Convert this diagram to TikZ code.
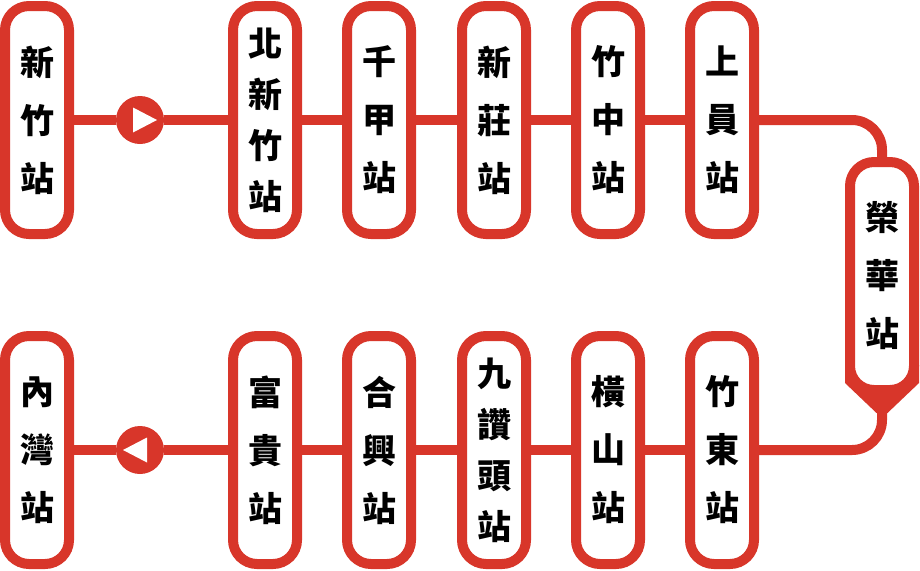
\documentclass[tikz,border=0pt]{standalone}
\usepackage{fontspec}
\usepackage{tikz}
\usetikzlibrary{backgrounds}
\newfontfamily\cjk{Noto Sans CJK TC}
\definecolor{lineRed}{RGB}{216,54,42}

\begin{document}
\begin{tikzpicture}[x=1pt,y=-1pt,
    stn/.style={draw=lineRed,line width=10pt,rounded corners=24pt,fill=white,
      minimum width=64pt,minimum height=228pt,inner sep=0pt,align=center,
      font=\cjk\bfseries\fontsize{34}{58}\selectfont},
    stnlong/.style={stn,font=\cjk\bfseries\fontsize{34}{51}\selectfont},
    conn/.style={draw=lineRed,line width=10pt,rounded corners=30pt},
    dir/.style={circle,fill=lineRed,minimum size=48pt,inner sep=0pt}]
    \useasboundingbox (0,0) rectangle (920,570);
    % upper row
    \node[stn] at (37,120) (xz) {新\\竹\\站};
    \node[dir] at (140,120) (go) {};
    \node[stnlong] at (265,120) (bxz) {北\\新\\竹\\站};
    \node[stn] at (379,120) (qj) {千\\甲\\站};
    \node[stn] at (494,120) (xzh) {新\\莊\\站};
    \node[stn] at (608,120) (zz) {竹\\中\\站};
    \node[stn] at (722,120) (sy) {上\\員\\站};
    % turn
    \node[stn] at (882,276) (rh) {榮\\華\\站};
    % lower row
    \node[stn] at (722,450) (zd) {竹\\東\\站};
    \node[stn] at (608,450) (hs) {橫\\山\\站};
    \node[stnlong] at (494,450) (jzt) {九\\讚\\頭\\站};
    \node[stn] at (379,450) (hx) {合\\興\\站};
    \node[stn] at (265,450) (fg) {富\\貴\\站};
    \node[dir] at (140,450) (back) {};
    \node[stn] at (37,450) (nw) {內\\灣\\站};
    \fill[white] ([shift={(-7pt,12.5pt)}]go.center) -- ([shift={(-7pt,-12.5pt)}]go.center)
      -- ([xshift=17pt]go.center) -- cycle;
    \fill[white] ([shift={(7pt,12.5pt)}]back.center) -- ([shift={(7pt,-12.5pt)}]back.center)
      -- ([xshift=-17pt]back.center) -- cycle;
    \begin{pgfonlayer}{background}
      \draw[conn] (xz) -- (go);
      \draw[conn] (go) -- (bxz);
      \draw[conn] (bxz) -- (qj);
      \draw[conn] (qj) -- (xzh);
      \draw[conn] (xzh) -- (zz);
      \draw[conn] (zz) -- (sy);
      \draw[conn] (sy.east) -| (rh.north);
      % pointer under the turn station
      \fill[lineRed] ([shift={(-37pt,30pt)}]rh.south) -- ([shift={(37pt,30pt)}]rh.south)
        -- ([shift={(37pt,12pt)}]rh.south) -- ([shift={(5.5pt,-18pt)}]rh.south)
        -- ([shift={(-5.5pt,-18pt)}]rh.south) -- ([shift={(-37pt,12pt)}]rh.south) -- cycle;
      \draw[conn] (rh.south) |- (zd.east);
      \draw[conn] (zd) -- (hs);
      \draw[conn] (hs) -- (jzt);
      \draw[conn] (jzt) -- (hx);
      \draw[conn] (hx) -- (fg);
      \draw[conn] (fg) -- (back);
      \draw[conn] (back) -- (nw);
    \end{pgfonlayer}
  \end{tikzpicture}
\end{document}
